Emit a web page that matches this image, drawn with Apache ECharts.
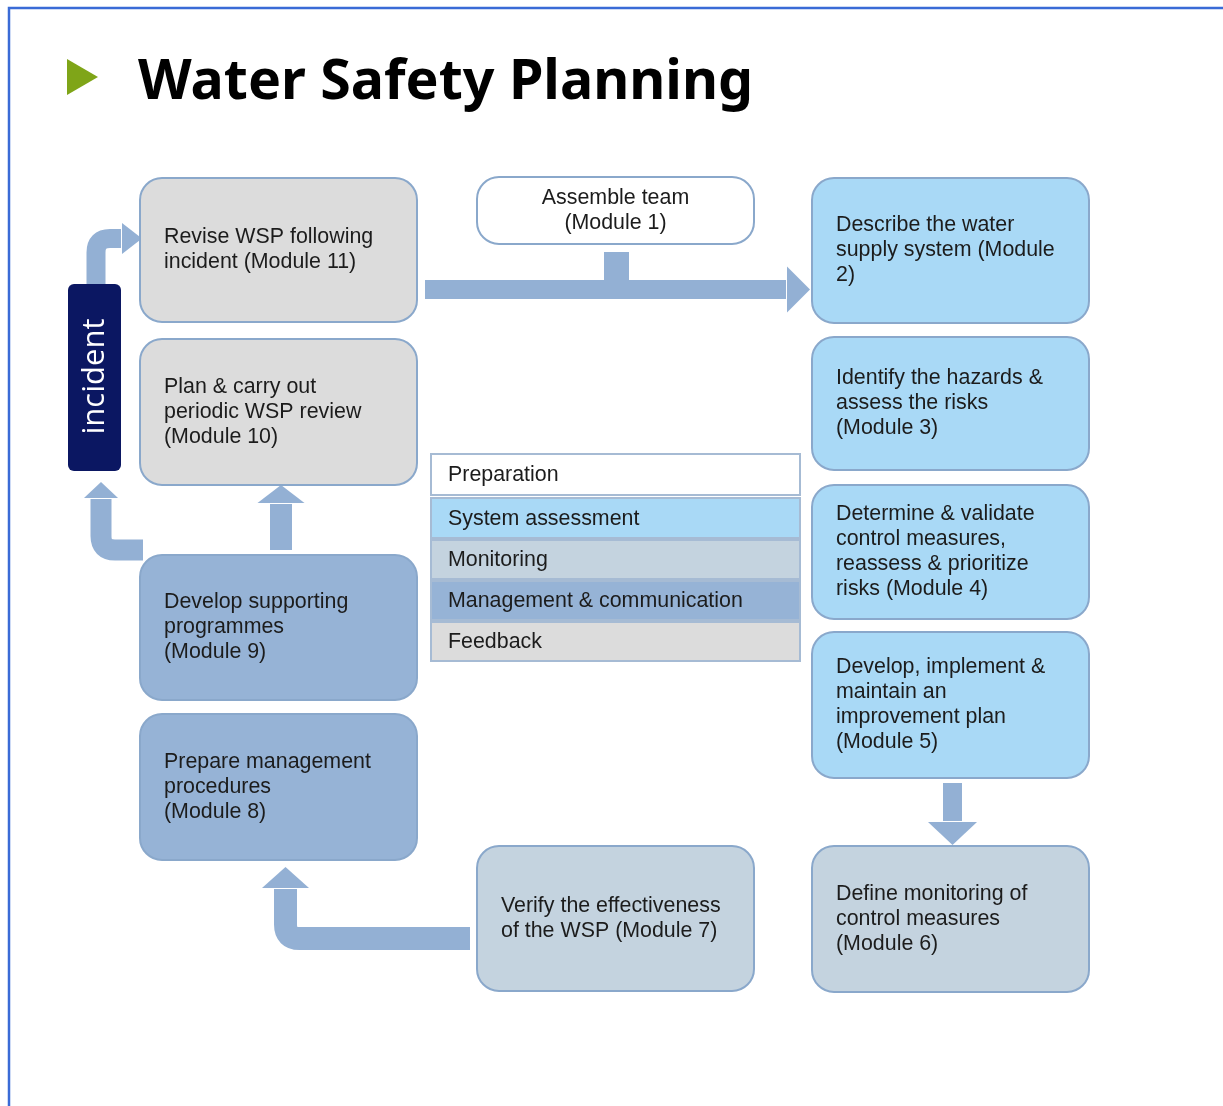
<!DOCTYPE html>
<html>
<head>
<meta charset="utf-8">
<title>Water Safety Planning</title>
<script src="https://cdn.jsdelivr.net/npm/echarts@6/dist/echarts.min.js"></script>
<style>
  html, body { margin: 0; padding: 0; background: #fff; }
  #chart { width: 1223px; height: 1106px; }
</style>
</head>
<body>
<div id="chart"></div>
<script>
// phases (legend rows) and their fills
const phases = ['Preparation', 'System assessment', 'Monitoring', 'Management & communication', 'Feedback'];
const phaseColors = ['#ffffff', '#a9d9f6', '#c4d3df', '#96b3d6', '#dcdcdc'];

// the eleven modules
const steps = [
  'Assemble team\n(Module 1)',
  'Describe the water\nsupply system (Module\n2)',
  'Identify the hazards &\nassess the risks\n(Module 3)',
  'Determine & validate\ncontrol measures,\nreassess & prioritize\nrisks (Module 4)',
  'Develop, implement &\nmaintain an\nimprovement plan\n(Module 5)',
  'Define monitoring of\ncontrol measures\n(Module 6)',
  'Verify the effectiveness\nof the WSP (Module 7)',
  'Prepare management\nprocedures\n(Module 8)',
  'Develop supporting\nprogrammes\n(Module 9)',
  'Plan & carry out\nperiodic WSP review\n(Module 10)',
  'Revise WSP following\nincident (Module 11)'
];
const stepPhase = [0, 1, 1, 1, 1, 2, 2, 3, 3, 4, 4];

// layout of the boxes on the canvas scale [x0, y0, x1, y1]
const stepBoxes = [
  [477, 177, 754, 244],
  [812, 178, 1089, 323],
  [812, 337, 1089, 470],
  [812, 485, 1089, 619],
  [812, 632, 1089, 778],
  [812, 846, 1089, 992],
  [477, 846, 754, 991],
  [140, 714, 417, 860],
  [140, 555, 417, 700],
  [140, 339, 417, 485],
  [140, 178, 417, 322]
];
const legendRows = [[431, 454, 800, 495], [431, 498, 800, 538], [431, 540, 800, 579], [431, 581, 800, 620], [431, 622, 800, 661]];
const incidentBox = [68, 284, 121, 471];

// connectors: centre line points, shaft width, head width, head length (0 = no head)
const arrows = [
  { path: [[425, 289.5], [810, 289.5]], w: 19, hw: 46, hl: 23 },
  { path: [[616.5, 252], [616.5, 290]], w: 25, hw: 0, hl: 0 },
  { path: [[952.5, 783], [952.5, 845]], w: 19, hw: 49, hl: 23 },
  { path: [[470, 938.5], [285.5, 938.5], [285.5, 867]], w: 23, hw: 47, hl: 21 },
  { path: [[281, 550], [281, 485]], w: 22, hw: 47, hl: 18 },
  { path: [[143, 550], [101, 550], [101, 482]], w: 21, hw: 34, hl: 16 },
  { path: [[96, 284], [96, 238.5], [142, 238.5]], w: 19, hw: 31, hl: 20 }
];

const TEXT = '#1c1c1c';
const EDGE = '#8aa8cb';
const ARROW = '#93b0d4';
const FONT = 'Liberation Sans, Arial, sans-serif';
const FS = 21.4;

const chart = echarts.init(document.getElementById('chart'));

function boxItem(params, api) {
  const i = params.dataIndex;
  const p0 = api.coord([api.value(0), api.value(1)]);
  const p1 = api.coord([api.value(2), api.value(3)]);
  const centred = i === 0;
  return {
    type: 'group',
    children: [{
      type: 'rect',
      shape: { x: p0[0], y: p0[1], width: p1[0] - p0[0], height: p1[1] - p0[1], r: 22 },
      style: { fill: phaseColors[stepPhase[i]], stroke: EDGE, lineWidth: 2 }
    }, {
      type: 'text',
      style: {
        text: steps[i],
        x: centred ? (p0[0] + p1[0]) / 2 : p0[0] + 24,
        y: (p0[1] + p1[1]) / 2,
        align: centred ? 'center' : 'left',
        verticalAlign: 'middle',
        fontSize: FS, fontFamily: FONT, lineHeight: 25, fill: TEXT
      }
    }]
  };
}

function legendItem(params, api) {
  const i = params.dataIndex;
  const p0 = api.coord([api.value(0), api.value(1)]);
  const p1 = api.coord([api.value(2), api.value(3)]);
  return {
    type: 'group',
    children: [{
      type: 'rect',
      shape: { x: p0[0], y: p0[1], width: p1[0] - p0[0], height: p1[1] - p0[1] },
      style: { fill: phaseColors[i], stroke: '#a6bbd4', lineWidth: 2 }
    }, {
      type: 'text',
      style: {
        text: phases[i], x: p0[0] + 17, y: (p0[1] + p1[1]) / 2 + 1,
        align: 'left', verticalAlign: 'middle',
        fontSize: FS, fontFamily: FONT, fill: TEXT
      }
    }]
  };
}

function incidentItem(params, api) {
  const p0 = api.coord([api.value(0), api.value(1)]);
  const p1 = api.coord([api.value(2), api.value(3)]);
  return {
    type: 'group',
    children: [{
      type: 'rect',
      shape: { x: p0[0], y: p0[1], width: p1[0] - p0[0], height: p1[1] - p0[1], r: 6 },
      style: { fill: '#0b1762' }
    }, {
      type: 'text',
      x: (p0[0] + p1[0]) / 2 + 1, y: (p0[1] + p1[1]) / 2 - 1,
      rotation: Math.PI / 2,
      style: {
        text: 'incident', align: 'center', verticalAlign: 'middle',
        fontSize: 31, fontFamily: 'Open Sans, sans-serif', fill: '#ffffff'
      }
    }]
  };
}

function arrowItem(params, api) {
  const a = arrows[params.dataIndex];
  const pts = a.path.map(p => api.coord(p));
  const n = pts.length;
  const last = pts[n - 1], prev = pts[n - 2];
  const len = Math.hypot(last[0] - prev[0], last[1] - prev[1]);
  const ux = (last[0] - prev[0]) / len, uy = (last[1] - prev[1]) / len;
  // shaft stops where the head begins
  const end = a.hl ? [last[0] - ux * (a.hl + 1), last[1] - uy * (a.hl + 1)] : last;
  const r = 14;
  let d = 'M' + pts[0][0] + ' ' + pts[0][1];
  for (let k = 1; k < n - 1; k++) {
    const P = pts[k], A = pts[k - 1], B = pts[k + 1];
    const la = Math.hypot(A[0] - P[0], A[1] - P[1]), lb = Math.hypot(B[0] - P[0], B[1] - P[1]);
    const q1 = [P[0] + (A[0] - P[0]) / la * r, P[1] + (A[1] - P[1]) / la * r];
    const q2 = [P[0] + (B[0] - P[0]) / lb * r, P[1] + (B[1] - P[1]) / lb * r];
    d += ' L' + q1[0] + ' ' + q1[1] + ' Q' + P[0] + ' ' + P[1] + ' ' + q2[0] + ' ' + q2[1];
  }
  d += ' L' + end[0] + ' ' + end[1];
  const children = [{
    type: 'path',
    shape: { pathData: d },
    style: { fill: 'none', stroke: ARROW, lineWidth: a.w, lineCap: 'butt', lineJoin: 'miter' }
  }];
  if (a.hl) {
    const bx = last[0] - ux * a.hl, by = last[1] - uy * a.hl;
    const h = a.hw / 2;
    children.push({
      type: 'polygon',
      shape: { points: [[last[0], last[1]], [bx - uy * h, by + ux * h], [bx + uy * h, by - ux * h]] },
      style: { fill: ARROW }
    });
  }
  return { type: 'group', children: children };
}

chart.setOption({
  animation: false,
  backgroundColor: '#ffffff',
  title: {
    text: 'Water Safety Planning',
    left: 133, top: 50,
    textStyle: { fontSize: 55.5, fontWeight: 'bold', fontFamily: 'Noto Sans, sans-serif', color: '#000000' }
  },
  graphic: [
    { type: 'rect', shape: { x: 9, y: 8, width: 1400, height: 1300 }, style: { fill: 'none', stroke: '#3a6bd6', lineWidth: 2.5 } },
    { type: 'polygon', shape: { points: [[67, 59], [67, 95], [98, 77]] }, style: { fill: '#7fa518' } }
  ],
  grid: { left: 0, right: 0, top: 0, bottom: 0 },
  xAxis: { type: 'value', min: 0, max: 1223, show: false },
  yAxis: { type: 'value', min: 0, max: 1106, inverse: true, show: false },
  series: [{
    type: 'custom', name: 'arrows', renderItem: arrowItem,
    data: arrows.map((a, i) => [i]), encode: { x: 0 }, clip: false
  }, {
    type: 'custom', name: 'modules', renderItem: boxItem,
    data: stepBoxes, encode: { x: [0, 2], y: [1, 3] }, clip: false
  }, {
    type: 'custom', name: 'phases', renderItem: legendItem,
    data: legendRows, encode: { x: [0, 2], y: [1, 3] }, clip: false
  }, {
    type: 'custom', name: 'incident', renderItem: incidentItem,
    data: [incidentBox], encode: { x: [0, 2], y: [1, 3] }, clip: false
  }]
});
</script>
</body>
</html>
